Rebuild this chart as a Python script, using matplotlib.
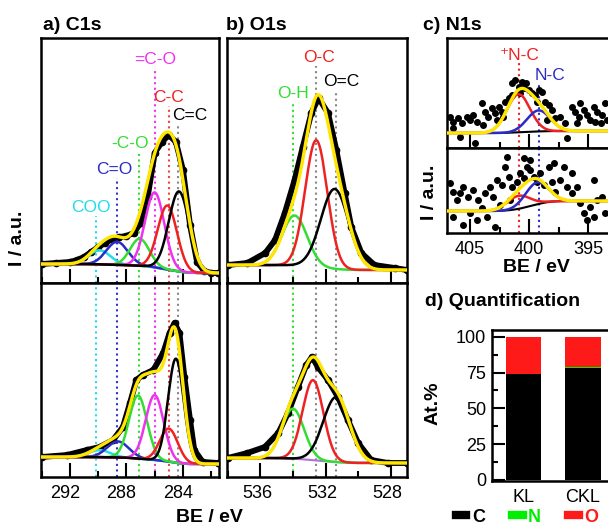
import numpy as np
import matplotlib.pyplot as plt
from matplotlib.lines import Line2D
from matplotlib.ticker import MultipleLocator
from matplotlib.transforms import ScaledTranslation

plt.rcParams['font.family'] = ['Liberation Sans', 'DejaVu Sans']

YELLOW = '#ffe600'

# ---------------- C1s ----------------
c1s_labels = ['COO', 'C=O', '-C-O', '=C-O', 'C-C', 'C=C']
c1s_colors = ['#22dde8', '#2b2bc8', '#33dd33', '#ee33ee', '#ee2222', 'black']
c1s_line_colors = ['#22dde8', '#3333cc', '#33dd33', '#ee33ee', '#ee4444', '#888888']
c1s_marks = [290.15, 288.7, 287.08, 286.0, 285.0, 284.36]
c1s_label_be = [290.55, 288.83, 287.75, 286.0, 285.0, 283.5]
c1s_label_y = [75, 113, 140, 223, 185, 168]

# KL (top) measured points
c1s_kl_be = [294.0, 293.0, 292.0, 291.5, 291.0, 290.5, 290.0, 289.5, 289.0, 288.5, 288.0,
             287.5, 287.0, 286.5, 286.0, 285.5, 285.0, 284.5, 284.0, 283.5, 283.0,
             282.5, 282.0, 281.5]
c1s_kl_int = [19, 20, 21, 23, 26, 31, 36, 40, 44, 46, 47, 50, 60, 86, 130, 141, 148,
              141, 113, 58, 21, 12, 10, 10]
c1s_kl_center = [289.9, 288.66, 287.06, 286.0, 285.1, 284.28]
c1s_kl_height = [14, 23, 27, 75, 64, 80]
c1s_kl_fwhm = [1.8, 1.8, 1.6, 1.6, 1.6, 1.7]
c1s_kl_bg = (19, 10)

# CKL (bottom) measured points
c1s_ckl_be = [294.0, 292.2, 290.8, 289.9, 288.95, 288.25, 287.75, 287.3, 286.85, 286.1,
              285.4, 284.95, 284.6, 284.25, 283.9, 283.5, 283.2, 282.6, 281.5]
c1s_ckl_int = [20, 22, 27, 30, 37, 50, 74, 97, 102, 107, 124, 144, 154, 144, 100, 57,
               27, 15, 14]
c1s_ckl_center = [289.9, 288.6, 287.18, 286.0, 285.0, 284.5]
c1s_ckl_height = [7, 16, 63, 65, 33, 104]
c1s_ckl_fwhm = [1.8, 1.8, 1.5, 1.5, 1.5, 1.3]
c1s_ckl_bg = (20, 13)

# ---------------- O1s ----------------
o1s_labels = ['O-H', 'O-C', 'O=C']
o1s_colors = ['#33dd33', '#ee2222', 'black']
o1s_line_colors = ['#33dd33', '#888888', '#888888']
o1s_marks = [534.0, 532.6, 531.35]
o1s_label_be = [534.0, 532.43, 531.03]
o1s_label_y = [189, 225, 201]

o1s_kl_be = [538.0, 536.8, 535.7, 535.1, 534.5, 533.9, 533.4, 532.87, 532.43, 531.85,
             531.34, 530.83, 530.42, 529.8, 529.0, 527.76, 527.0]
o1s_kl_int = [18, 20, 30, 43, 70, 103, 136, 170, 185, 170, 133, 90, 56, 30, 18, 15, 13]
o1s_kl_center = [533.9, 532.57, 531.44]
o1s_kl_height = [50, 127, 80]
o1s_kl_fwhm = [1.8, 1.6, 2.0]
o1s_kl_bg = (18, 13)

o1s_ckl_be = [538.0, 536.8, 535.73, 534.9, 534.3, 533.7, 533.18, 532.83, 532.47, 531.85,
              531.24, 530.63, 530.0, 529.2, 528.17, 527.0]
o1s_ckl_int = [19, 24, 30, 44, 64, 90, 112, 120, 110, 97, 80, 57, 34, 17, 14, 14]
o1s_ckl_center = [534.0, 532.77, 531.34]
o1s_ckl_height = [50, 80, 65]
o1s_ckl_fwhm = [1.6, 1.5, 1.9]
o1s_ckl_bg = (19, 14)

# ---------------- N1s ----------------
n1s_labels = ['\u207aN-C', 'N-C']
n1s_colors = ['#ee2222', '#2b2bc8']
n1s_marks = [400.82, 399.2]
n1s_label_be = [400.76, 398.2]
n1s_label_y = [93, 73]

n1s_kl_be = [406.69, 406.40, 405.98, 405.70, 405.27, 404.99, 404.71, 404.43, 404.0, 403.72,
             403.44, 403.16, 402.87, 402.59, 402.31, 402.03, 401.74, 401.46, 401.18, 400.90,
             400.61, 400.25, 400.05, 399.77, 399.48, 399.20, 398.92, 398.64, 398.35, 398.07,
             397.79, 397.37, 396.94, 396.80, 396.38, 396.09, 395.81, 395.39, 395.11, 394.82,
             394.54, 394.26, 393.83, 393.55, 405.84, 404.57, 403.86, 402.73, 398.5, 395.95,
             394.4, 393.97, 406.4, 401.46, 400.76, 400.47, 399.34, 402.17, 395.67, 393.41]
n1s_kl_int = [31, 26, 30, 25, 31, 28, 33, 26, 45, 36,
              31, 40, 35, 41, 36, 46, 50, 65, 68, 61,
              66, 65, 58, 55, 53, 58, 56, 46, 43, 38,
              30, 31, 25, 10, 41, 36, 31, 38, 33, 28,
              41, 36, 33, 45, 11, 5, 23, 28, 28, 25,
              26, 25, 20, 53, 55, 60, 46, 31, 45, 28]
n1s_kl_center = [400.9, 399.2]
n1s_kl_height = [38, 21]
n1s_kl_fwhm = [2.3, 2.3]
n1s_kl_bg = (15, 17)

n1s_ckl_be = [406.69, 406.4, 406.12, 405.84, 405.56, 405.13, 404.71, 404.29, 404.0, 403.72,
              403.3, 403.02, 402.73, 402.31, 402.03, 401.74, 401.46, 401.04, 400.76, 400.47,
              400.19, 399.91, 399.63, 399.34, 399.06, 398.78, 398.35, 398.07, 397.79, 397.37,
              397.08, 396.8, 396.38, 395.95, 395.67, 395.39, 395.11, 394.82, 394.54, 394.26,
              393.83, 393.55, 406.4, 405.56, 404.99, 404.43, 403.58, 402.87, 402.45, 401.6,
              399.91, 400.47, 401.88, 397.93, 396.38, 394.54]
n1s_ckl_int = [50, 41, 33, 40, 46, 36, 43, 33, 25, 40,
               46, 36, 53, 48, 66, 56, 46, 51, 60, 55,
               66, 63, 56, 51, 60, 48, 66, 51, 41, 53,
               66, 46, 40, 46, 30, 20, 13, 26, 16, 33,
               36, 20, 16, 8, 20, 13, 16, 6, 28, 33,
               73, 75, 76, 70, 60, 53]
n1s_ckl_center = [400.9, 399.34]
n1s_ckl_height = [13, 22]
n1s_ckl_fwhm = [2.3, 2.3]
n1s_ckl_bg = (22, 32)

# ---------------- Quantification ----------------
samples = ['KL', 'CKL']
at_C = [74.0, 78.3]
at_N = [0.0, 0.8]
at_O = [26.0, 20.9]


def fit_curves(lo, hi, centers, heights, fwhm, bg):
    be = np.linspace(lo, hi, 800)
    comps = [h * np.exp(-4 * np.log(2) * (be - c) ** 2 / w ** 2)
             for c, h, w in zip(centers, heights, fwhm)]
    total = np.sum(comps, axis=0)
    cum = np.cumsum(total)
    shirley = bg[1] + (bg[0] - bg[1]) * cum / cum[-1]
    return be, shirley, [shirley + c for c in comps], shirley + total


fig = plt.figure(figsize=(6.08, 5.29), dpi=100)


def px_axes(x0, y0, x1, y1):
    return fig.add_axes([x0 / 608, 1 - y1 / 529, (x1 - x0) / 608, (y1 - y0) / 529])


def style_axes(ax, major, minor, labels=True, shift=0.0):
    for s in ax.spines.values():
        s.set_linewidth(1.8)
    ax.xaxis.set_major_locator(MultipleLocator(major))
    ax.xaxis.set_minor_locator(MultipleLocator(minor))
    ax.tick_params(which='both', direction='in', width=1.5, top=False, left=False,
                   right=False, labelleft=False, labelbottom=labels, labelsize=13, pad=6)
    ax.tick_params(which='major', length=10)
    ax.tick_params(which='minor', length=4.5)
    ax.set_yticks([])
    if shift:
        for lab in ax.get_xticklabels():
            lab.set_transform(lab.get_transform() + ScaledTranslation(shift / 100, 0, fig.dpi_scale_trans))


def draw_spectrum(ax, be_pts, int_pts, xlim, centers, heights, fwhm, bg, colors, bg_color):
    be, shirley, comps, env = fit_curves(min(xlim), max(xlim), centers, heights, fwhm, bg)
    order = np.argsort(be_pts)
    ax.plot(np.array(be_pts)[order], np.array(int_pts)[order], color='black', lw=4.2,
            marker='o', ms=4.5, zorder=2, solid_capstyle='round')
    if bg_color:
        ax.plot(be, shirley, color=bg_color, lw=1.5, zorder=3)
    for comp, col in zip(comps, colors):
        ax.plot(be, comp, color=col, lw=1.8, zorder=3)
    ax.plot(be, env, color=YELLOW, lw=2.4, zorder=4)


def bold_title(x, y, s):
    fig.text(x / 608, 1 - y / 529, s, fontsize=14, fontweight='bold', va='center', ha='left')


# ---- panel a ----
a_xlim = (294.05, 281.45)
ax_a1 = px_axes(41, 38, 219, 283)
ax_a2 = px_axes(41, 283, 219, 477)
comp_cols_c = c1s_colors[:5] + ['black']
draw_spectrum(ax_a1, c1s_kl_be, c1s_kl_int, a_xlim, c1s_kl_center, c1s_kl_height,
              c1s_kl_fwhm, c1s_kl_bg, comp_cols_c, '#9a9a3a')
draw_spectrum(ax_a2, c1s_ckl_be, c1s_ckl_int, a_xlim, c1s_ckl_center, c1s_ckl_height,
              c1s_ckl_fwhm, c1s_ckl_bg, comp_cols_c, '#9a9a3a')
ax_a1.set_ylim(0, 245)
ax_a2.set_ylim(0, 194)
for m, lc, lb, ly, lab, tc in zip(c1s_marks, c1s_line_colors, c1s_label_be, c1s_label_y,
                                  c1s_labels, c1s_colors):
    ax_a1.vlines(m, 0, ly - 8, colors=lc, linestyles=':', lw=1.5, zorder=1)
    ax_a2.axvline(m, color=lc, ls=':', lw=1.5, zorder=1)
    ax_a1.text(lb, ly, lab, color=tc, fontsize=12.5, ha='center', va='center')
for ax in (ax_a1, ax_a2):
    ax.set_xlim(*a_xlim)
style_axes(ax_a1, 4, 2, labels=False)
style_axes(ax_a2, 4, 2, shift=-5)
bold_title(43, 25, 'a) C1s')

# ---- panel b ----
b_xlim = (538.05, 527.0)
ax_b1 = px_axes(227, 38, 407, 283)
ax_b2 = px_axes(227, 283, 407, 477)
draw_spectrum(ax_b1, o1s_kl_be, o1s_kl_int, b_xlim, o1s_kl_center, o1s_kl_height,
              o1s_kl_fwhm, o1s_kl_bg, o1s_colors, None)
draw_spectrum(ax_b2, o1s_ckl_be, o1s_ckl_int, b_xlim, o1s_ckl_center, o1s_ckl_height,
              o1s_ckl_fwhm, o1s_ckl_bg, o1s_colors, '#b070d8')
ax_b1.set_ylim(0, 245)
ax_b2.set_ylim(0, 194)
for m, lc, lb, ly, lab, tc in zip(o1s_marks, o1s_line_colors, o1s_label_be, o1s_label_y,
                                  o1s_labels, o1s_colors):
    ax_b1.vlines(m, 0, ly - 8, colors=lc, linestyles=':', lw=1.5, zorder=1)
    ax_b2.axvline(m, color=lc, ls=':', lw=1.5, zorder=1)
    ax_b1.text(lb, ly, lab, color=tc, fontsize=12.5, ha='center', va='center')
for ax in (ax_b1, ax_b2):
    ax.set_xlim(*b_xlim)
style_axes(ax_b1, 4, 2, labels=False)
style_axes(ax_b2, 4, 2, shift=-3)
bold_title(226, 25, 'b) O1s')

fig.text(209 / 608, 1 - 518 / 529, 'BE / eV', fontsize=14, fontweight='bold',
         ha='center', va='center')
fig.text(18 / 608, 1 - 238 / 529, 'I / a.u.', fontsize=14, fontweight='bold',
         ha='center', va='center', rotation=90)

# ---- panel c ----
c_xlim = (406.97, 393.0)
ax_c1 = px_axes(446.7, 38, 612, 148)
ax_c2 = px_axes(446.7, 148, 612, 233)
for ax, be_pts, int_pts, cen, hei, fw, bg, top in (
        (ax_c1, n1s_kl_be, n1s_kl_int, n1s_kl_center, n1s_kl_height, n1s_kl_fwhm, n1s_kl_bg, 110),
        (ax_c2, n1s_ckl_be, n1s_ckl_int, n1s_ckl_center, n1s_ckl_height, n1s_ckl_fwhm, n1s_ckl_bg, 85)):
    be, shirley, comps, env = fit_curves(393.0, 406.97, cen, hei, fw, bg)
    ax.plot(be_pts, int_pts, 'o', color='black', ms=4, zorder=2)
    ax.plot(be, shirley, color='black', lw=1.5, zorder=3)
    for comp, col in zip(comps, n1s_colors):
        ax.plot(be, comp, color=col, lw=1.8, zorder=3)
    ax.plot(be, env, color=YELLOW, lw=2.4, zorder=4)
    ax.set_xlim(*c_xlim)
    ax.set_ylim(0, top)
for m, lc, lb, ly, lab in zip(n1s_marks, n1s_colors, n1s_label_be, n1s_label_y, n1s_labels):
    ax_c1.vlines(m, 0, ly - 8, colors=lc, linestyles=':', lw=1.5, zorder=1)
    ax_c2.axvline(m, color=lc, ls=':', lw=1.5, zorder=1)
    ax_c1.text(lb, ly, lab, color=lc, fontsize=12.5, ha='center', va='center')
style_axes(ax_c1, 5, 2.5, labels=False)
style_axes(ax_c2, 5, 2.5)
bold_title(423, 25, 'c) N1s')
fig.text(536.7 / 608, 1 - 268 / 529, 'BE / eV', fontsize=14, fontweight='bold',
         ha='center', va='center')
fig.text(430 / 608, 1 - 192 / 529, 'I / a.u.', fontsize=14, fontweight='bold',
         ha='center', va='center', rotation=90)

# ---- panel d ----
ax_d = px_axes(491.7, 330, 660, 481)
xpos = np.arange(len(samples))
ax_d.bar(xpos, at_C, width=0.6, color='black')
ax_d.bar(xpos, at_N, width=0.6, bottom=at_C, color='#00ee00')
ax_d.bar(xpos, at_O, width=0.6, bottom=np.array(at_C) + np.array(at_N), color='#ff1a1a')
ax_d.set_xlim(-0.54, 2.3)
ax_d.set_ylim(-0.7, 104.7)
ax_d.set_xticks(xpos)
ax_d.set_xticklabels(samples)
ax_d.yaxis.set_major_locator(MultipleLocator(25))
ax_d.yaxis.set_minor_locator(MultipleLocator(12.5))
for s in ax_d.spines.values():
    s.set_linewidth(1.8)
ax_d.tick_params(axis='y', which='both', direction='in', width=1.5, labelsize=13, pad=4)
ax_d.tick_params(axis='y', which='major', length=9)
ax_d.tick_params(axis='y', which='minor', length=4)
ax_d.tick_params(axis='x', length=0, labelsize=13, pad=6)
bold_title(425, 302, 'd) Quantification')
fig.text(433 / 608, 1 - 403 / 529, 'At.%', fontsize=14, fontweight='bold',
         ha='center', va='center', rotation=90)

handles = [Line2D([], [], color=c, lw=6) for c in ('black', '#00ee00', '#ff1a1a')]
leg = fig.legend(handles, ['C', 'N', 'O'], loc='center', ncol=3,
                 bbox_to_anchor=(527 / 608, 1 - 517 / 529), frameon=False,
                 handlelength=0.6, handletextpad=0.3, columnspacing=1.5,
                 prop={'weight': 'bold', 'size': 13})
for t, c in zip(leg.get_texts(), ('black', '#00ee00', '#ff1a1a')):
    t.set_color(c)

fig.savefig('out.png', dpi=100)
